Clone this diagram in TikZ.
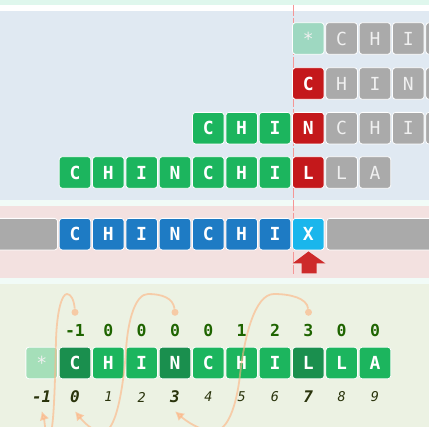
\documentclass[tikz,border=0pt]{standalone}
\usepackage{fontspec}
\setmonofont{DejaVu Sans Mono}[ItalicFont={DejaVu Sans Mono Oblique},
  BoldItalicFont={DejaVu Sans Mono Bold Oblique}]
\usetikzlibrary{arrows.meta}
\definecolor{mintbar}{RGB}{223,247,237}
\definecolor{seppale}{RGB}{241,251,247}
\definecolor{bluepanel}{RGB}{224,233,242}
\definecolor{pinkpanel}{RGB}{243,225,224}
\definecolor{greenpanel}{RGB}{236,242,227}
\definecolor{matchgreen}{RGB}{28,181,94}
\definecolor{jumpgreen}{RGB}{26,143,78}
\definecolor{starmint}{RGB}{158,216,193}
\definecolor{starpale}{RGB}{165,223,185}
\definecolor{restgray}{RGB}{170,170,170}
\definecolor{restletter}{RGB}{240,240,240}
\definecolor{failred}{RGB}{196,24,27}
\definecolor{textblue}{RGB}{30,123,196}
\definecolor{curblue}{RGB}{26,182,236}
\definecolor{pointred}{RGB}{205,42,42}
\definecolor{guidepink}{RGB}{245,150,150}
\definecolor{linkpeach}{RGB}{254,180,130}
\definecolor{dotpeach}{RGB}{246,202,165}
\definecolor{failnum}{RGB}{30,100,0}
\definecolor{idxnum}{RGB}{42,52,12}
\tikzstyle{cell}=[rectangle,rounded corners=3pt,draw=white,line width=0.8pt,
                  minimum width=31.6pt,minimum height=31.6pt,inner sep=0pt,
                  text=white,font=\ttfamily\bfseries\fontsize{18}{18}\selectfont]
\tikzstyle{hitcell}=[cell,fill=matchgreen]
\tikzstyle{jumpcell}=[cell,fill=jumpgreen]
\tikzstyle{redcell}=[cell,fill=failred]
\tikzstyle{bluecell}=[cell,fill=textblue]
\tikzstyle{curcell}=[cell,fill=curblue]
\tikzstyle{graycell}=[cell,fill=restgray,text=restletter,
                      font=\ttfamily\fontsize{18}{18}\selectfont]
\tikzstyle{starcell}=[cell,text=restletter,font=\ttfamily\fontsize{18}{18}\selectfont]
\tikzstyle{failval}=[inner sep=0pt,text=failnum,
                     font=\ttfamily\bfseries\fontsize{16.5}{16.5}\selectfont]
\tikzstyle{idxbold}=[inner sep=0pt,text=idxnum,
                     font=\ttfamily\bfseries\itshape\fontsize{16}{16}\selectfont]
\tikzstyle{idxthin}=[inner sep=0pt,text=idxnum,
                     font=\ttfamily\itshape\fontsize{13.5}{13.5}\selectfont]
\tikzstyle{linkdot}=[circle,fill=dotpeach,inner sep=0pt,minimum size=7pt]
\tikzstyle{link}=[draw=linkpeach,line width=1.8pt,opacity=0.6,
                  -{Latex[length=9pt,width=10pt]}]

\begin{document}
\begin{tikzpicture}[x=1pt,y=-1pt]
    \newcommand{\pitch}{33.33}
    \clip (0,0) rectangle (429,427);
    % panels
    \fill[white] (0,0) rectangle (429,427);
    \fill[mintbar] (0,0) rectangle (429,5);
    \fill[bluepanel] (0,11) rectangle (429,200.5);
    \fill[seppale] (0,200.5) rectangle (429,206);
    \fill[pinkpanel] (0,206) rectangle (429,278.5);
    \fill[seppale] (0,278.5) rectangle (429,284);
    \fill[greenpanel] (0,284) rectangle (429,427);
    \draw[guidepink,line width=1pt,dash pattern=on 11pt off 2pt] (293,5) -- (293,274);

    % pattern shifts
    \node (a7) at ({75+7*\pitch},38.5) [starcell,fill=starmint]{*};
    \foreach \ch [count=\k from 8] in {C,H,I}
      \node (a\k) at ({75+\k*\pitch},38.5) [graycell]{\ch};
    \node (a11) at ({75+11*\pitch},38.5) [graycell]{};
    \node (b7) at ({75+7*\pitch},83.5) [redcell]{C};
    \foreach \ch [count=\k from 8] in {H,I,N}
      \node (b\k) at ({75+\k*\pitch},83.5) [graycell]{\ch};
    \node (b11) at ({75+11*\pitch},83.5) [graycell]{};
    \foreach \ch [count=\k from 4] in {C,H,I}
      \node (c\k) at ({75+\k*\pitch},128.2) [hitcell]{\ch};
    \node (c7) at ({75+7*\pitch},128.2) [redcell]{N};
    \foreach \ch [count=\k from 8] in {C,H,I}
      \node (c\k) at ({75+\k*\pitch},128.2) [graycell]{\ch};
    \node (c11) at ({75+11*\pitch},128.2) [graycell]{};
    \foreach \ch [count=\k from 0] in {C,H,I,N,C,H,I}
      \node (d\k) at ({75+\k*\pitch},172.5) [hitcell]{\ch};
    \node (d7) at ({75+7*\pitch},172.5) [redcell]{L};
    \node (d8) at ({75+8*\pitch},172.5) [graycell]{L};
    \node (d9) at ({75+9*\pitch},172.5) [graycell]{A};

    % text being scanned
    \filldraw[fill=restgray,draw=white,line width=0.8pt,rounded corners=3pt]
      (-10,218.4) rectangle (57.6,250);
    \filldraw[fill=restgray,draw=white,line width=0.8pt,rounded corners=3pt]
      (326.6,218.4) rectangle (440,250);
    \foreach \ch [count=\k from 0] in {C,H,I,N,C,H,I}
      \node (t\k) at ({75+\k*\pitch},234.2) [bluecell]{\ch};
    \node (t7) at ({75+7*\pitch},234.2) [curcell]{X};
    \fill[pointred] (308.5,251.5) -- (325.5,263.5) -- (316.5,263.5) -- (316.5,273.5)
      -- (301.5,273.5) -- (301.5,263.5) -- (292.5,263.5) -- cycle;

    % failure table
    \node (pstar) at ({75-\pitch},363) [starcell,fill=starpale]{*};
    \foreach \ch/\st [count=\k from 0] in {C/jumpcell,H/hitcell,I/hitcell,N/jumpcell,
        C/hitcell,H/hitcell,I/hitcell,L/jumpcell,L/hitcell,A/hitcell}
      \node (p\k) at ({75+\k*\pitch},363) [\st]{\ch};
    \foreach \v [count=\k from 0] in {-1,0,0,0,0,1,2,3,0,0}
      \node (f\k) at ({75+\k*\pitch},330) [failval]{\v};
    \foreach \st [count=\k from -1] in {idxbold,idxbold,idxthin,idxthin,idxbold,
        idxthin,idxthin,idxthin,idxbold,idxthin,idxthin}
      \node (n\k) at ({75+\k*\pitch},397) [\st]{\k};

    % links back
    \node (l0) at (75,312.3) [linkdot]{};
    \node (l3) at (175,312.3) [linkdot]{};
    \node (l7) at (308.5,312.3) [linkdot]{};
    \draw[link] (l0) .. controls (74,300) and (71,294) .. (67,294)
      .. controls (62,294) and (57,310) .. (56,340)
      .. controls (55,380) and (54,436) .. (49,436)
      .. controls (45,436) and (44.5,420) .. ([yshift=-8pt]n-1.south);
    \draw[link] (l3) .. controls (173,298) and (162,294) .. (148,294)
      .. controls (136,294) and (128,318) .. (126,350)
      .. controls (124.5,374) and (118,432) .. (103,432)
      .. controls (92,432) and (82,420) .. ([yshift=-8pt]n0.south);
    \draw[link] (l7) .. controls (307,298) and (290,294) .. (274,294)
      .. controls (254,294) and (244,340) .. (240,375)
      .. controls (236.6,405) and (228,431) .. (214,431)
      .. controls (200,431) and (186,421) .. ([yshift=-8pt]n3.south);
\end{tikzpicture}
\end{document}
